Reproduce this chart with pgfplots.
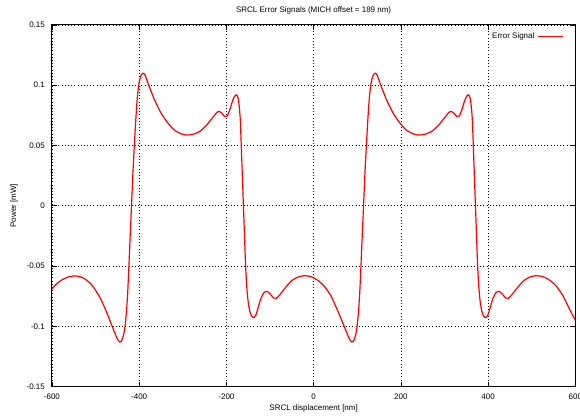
\documentclass[border=0pt]{standalone}
\usepackage{fontspec}
\setmainfont{Liberation Sans}
\usepackage{pgfplots}
\pgfplotsset{compat=1.18}

\begin{document}
\begin{tikzpicture}
% page frame: the axis box sits at (0,0)--(393pt,271.5pt)
\useasboundingbox (-39pt,-21.75pt) rectangle (396.5pt,290.25pt);
\begin{axis}[
  scale only axis,
  width=393pt, height=271.5pt,
  xmin=-600, xmax=600, ymin=-0.15, ymax=0.15,
  xtick={-600,-400,...,600},
  ytick={-0.15,-0.1,-0.05,0,0.05,0.1,0.15},
  yticklabels={-0.15,-0.1,-0.05,0,0.05,0.1,0.15},
  /pgf/number format/assume math mode=true,
  tick align=inside,
  major tick length=3.5pt,
  tick style={black, line width=0.5pt},
  axis line style={line width=0.8pt},
  grid=major,
  grid style={black, dotted, line width=0.5pt},
  font=\fontsize{6}{7}\selectfont,
  ticklabel style={font=\fontsize{6}{7}\selectfont},
  xticklabel style={anchor=center, yshift=-7.5pt},
  yticklabel style={anchor=east, xshift=-1.8pt},
  title={SRCL Error Signals (MICH offset = 189 nm)},
  title style={at={(axis description cs:0.5,1.0193)}, anchor=center},
  xlabel={SRCL displacement [nm]},
  xlabel style={at={(axis description cs:0.5,-0.0608)}, anchor=center},
  ylabel={Power [mW]},
  ylabel style={at={(axis description cs:-0.0725,0.5)}, anchor=center},
  legend style={draw=none, fill=none,
    at={(axis description cs:0.985,0.995)}, anchor=north east,
    font=\fontsize{6}{7}\selectfont, legend cell align=right},
  legend plot pos=right,
  legend image code/.code={%
    \draw[#1, sharp plot, red, line width=0.9pt] plot coordinates {(0pt,0pt) (18.75pt,0pt)};},
]
\addplot[red, line width=0.9pt, smooth, tension=0.35] coordinates {
(-600,-0.069) (-590,-0.065) (-575,-0.061) (-560,-0.0588) (-547,-0.0582)
(-530,-0.0595) (-510,-0.065) (-490,-0.076) (-475,-0.088) (-462,-0.100)
(-452,-0.109) (-447,-0.1122) (-444,-0.113) (-441,-0.1125) (-438,-0.110)
(-435,-0.106) (-432,-0.099) (-429,-0.087) (-426,-0.070)
(-420,-0.020) (-414,0.030) (-408,0.070) (-404,0.091) (-400,0.1025)
(-396,0.108) (-393,0.1095) (-391,0.110) (-388.5,0.1095) (-386,0.108)
(-378,0.100) (-365,0.088) (-350,0.077)
(-335,0.069) (-320,0.063) (-305,0.0598) (-291,0.0586) (-275,0.0595)
(-260,0.062) (-245,0.067) (-232,0.073) (-220,0.078) (-212,0.0775)
(-204,0.074) (-198,0.0745) (-192,0.080) (-185,0.088) (-181,0.0908)
(-178,0.092) (-175.5,0.0915) (-173,0.089) (-170.5,0.082) (-168,0.070)
(-164,0.030) (-160,-0.010) (-156,-0.050) (-153,-0.069)
(-150,-0.080) (-146.5,-0.0875) (-143,-0.091) (-139.5,-0.0925) (-136,-0.0925)
(-133,-0.091) (-130,-0.088) (-122,-0.078)
(-114,-0.072) (-107,-0.071) (-100,-0.073) (-92,-0.0765) (-86,-0.0768)
(-78,-0.074) (-65,-0.068) (-50,-0.062) (-35,-0.059) (-21,-0.058)
(-5,-0.059) (10,-0.062) (25,-0.067) (40,-0.075) (55,-0.087)
(70,-0.100) (80,-0.109) (85,-0.1122) (88,-0.113) (91,-0.1125) (94,-0.110)
(97,-0.106) (100,-0.099) (103,-0.087) (106,-0.070)
(112,-0.020) (118,0.030) (124,0.070) (128,0.091) (132,0.1025)
(136,0.108) (139,0.1095) (141,0.110) (143.5,0.1095) (146,0.108)
(154,0.100) (167,0.088) (182,0.077)
(197,0.069) (212,0.063) (227,0.0598) (241,0.0586) (257,0.0595)
(272,0.062) (287,0.067) (300,0.073) (312,0.078) (320,0.0775)
(328,0.074) (334,0.0745) (340,0.080) (347,0.088) (351,0.0908)
(354,0.092) (356.5,0.0915) (359,0.089) (361.5,0.082) (364,0.070)
(368,0.030) (372,-0.010) (376,-0.050) (379,-0.069)
(382,-0.080) (385.5,-0.0875) (389,-0.091) (392.5,-0.0925) (396,-0.0925)
(399,-0.091) (402,-0.088) (410,-0.078)
(418,-0.072) (425,-0.071) (432,-0.073) (440,-0.0765)
(446,-0.0768) (454,-0.074) (467,-0.068) (482,-0.062) (497,-0.059)
(511,-0.058) (527,-0.059) (542,-0.062) (557,-0.067) (572,-0.075)
(587,-0.086) (600,-0.095)
};
\addlegendentry{Error Signal}
\end{axis}
\end{tikzpicture}
\end{document}
